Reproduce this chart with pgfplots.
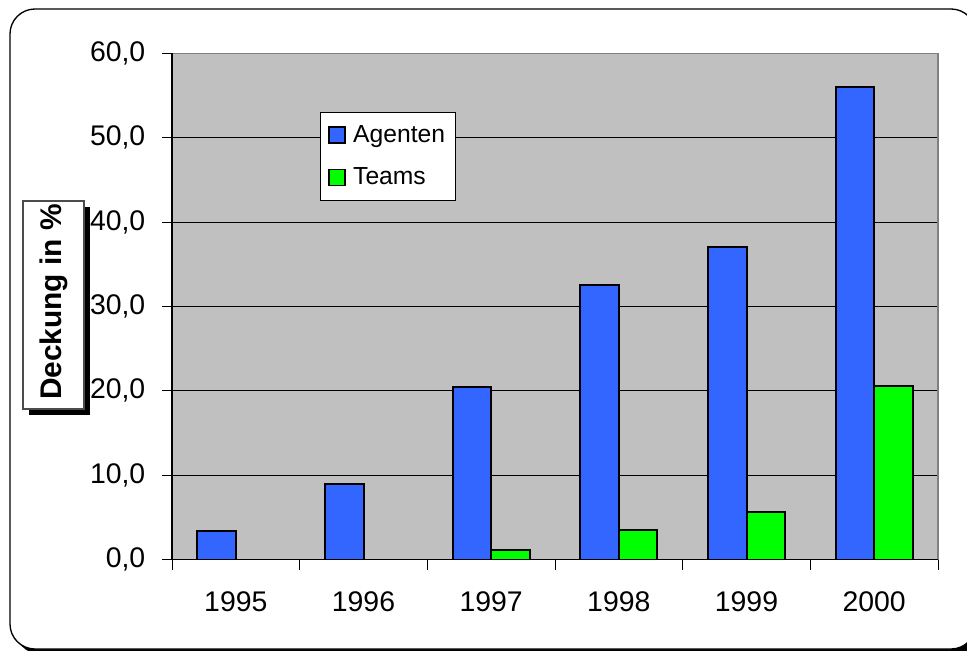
\documentclass[border=0pt]{standalone}
\usepackage{pgfplots}
\pgfplotsset{compat=1.18}
\usepackage{fontspec}
\setmainfont{Liberation Sans}

\definecolor{plotgray}{HTML}{C0C0C0}
\definecolor{framegray}{HTML}{808080}
\definecolor{agblue}{HTML}{3366FF}
\definecolor{tmgreen}{HTML}{00FF00}

% Deckung in %, per year
\pgfplotstableread{
x year agenten teams
0 1995 3.4  0.0
1 1996 9.0  0.0
2 1997 20.4 1.1
3 1998 32.5 3.5
4 1999 37.0 5.6
5 2000 56.0 20.6
}\deckung

\begin{document}
\begin{tikzpicture}
\useasboundingbox (0pt,0pt) rectangle (725.25pt,487.5pt);

% rounded outer frame with its shadow
\fill[black,rounded corners=18.75pt] (11.25pt,-3pt) rectangle (735.75pt,477pt);
\filldraw[fill=white,draw=black,line width=1pt,rounded corners=18.75pt] (7.5pt,0.75pt) rectangle (732pt,480.75pt);

\begin{axis}[
  at={(129pt,67.875pt)}, anchor=south west,
  scale only axis, width=574.5pt, height=379.65pt,
  xmin=-0.5, xmax=5.5, ymin=0, ymax=60,
  ytick={0,10,...,60},
  xtick={-0.5,0.5,...,5.5},
  xticklabels={1995,1996,1997,1998,1999,2000,{}},
  xticklabel style={xshift=47.87pt,yshift=-13pt},
  yticklabel style={xshift=-9pt},
  tick align=outside,
  xtick pos=bottom, ytick pos=left,
  major tick length=7.5pt,
  tick style={black,line width=0.75pt},
  ymajorgrids,
  grid style={black,line width=0.75pt},
  axis background/.style={fill=plotgray},
  axis line style={framegray,line width=1.2pt},
  /pgf/number format/assume math mode=true,
  tick label style={font=\fontsize{21.3}{25}\selectfont},
  y tick label style={/pgf/number format/fixed,/pgf/number format/fixed zerofill,
    /pgf/number format/precision=1,/pgf/number format/use comma},
  ybar=0pt, bar width=28.9pt,
  legend style={at={(0.1932,0.8846)}, anchor=north west, draw=black, fill=white,
    line width=0.75pt, font=\fontsize{18.5}{22}\selectfont,
    inner xsep=6pt, inner ysep=8pt, row sep=13.5pt},
  legend cell align=left,
  legend image code/.code={\draw[#1,line width=1pt] (0pt,-6pt) rectangle (12pt,6pt);
    \path[draw=none,fill=none] (12pt,0pt) -- (16pt,0pt);},
  after end axis/.code={
    \draw[black,line width=1pt] (rel axis cs:0,1) -- (rel axis cs:0,0) -- (rel axis cs:1,0);
  },
]
\addplot[fill=agblue,draw=black,line width=1.5pt] table[x=x,y=agenten] {\deckung};
\addlegendentry{Agenten}
\addplot[fill=tmgreen,draw=black,line width=1.5pt] table[x=x,y=teams] {\deckung};
\addlegendentry{Teams}
\end{axis}

% boxed axis title with shadow
\fill[black] (21.75pt,176.25pt) rectangle (67.5pt,332.25pt);
\filldraw[fill=white,draw=black!70,line width=0.9pt] (17.25pt,180.75pt) rectangle (63pt,336.75pt);
\node[rotate=90,font=\bfseries\fontsize{22.4}{26}\selectfont,anchor=center] at (40.1pt,261pt) {Deckung in \%};
\end{tikzpicture}
\end{document}
